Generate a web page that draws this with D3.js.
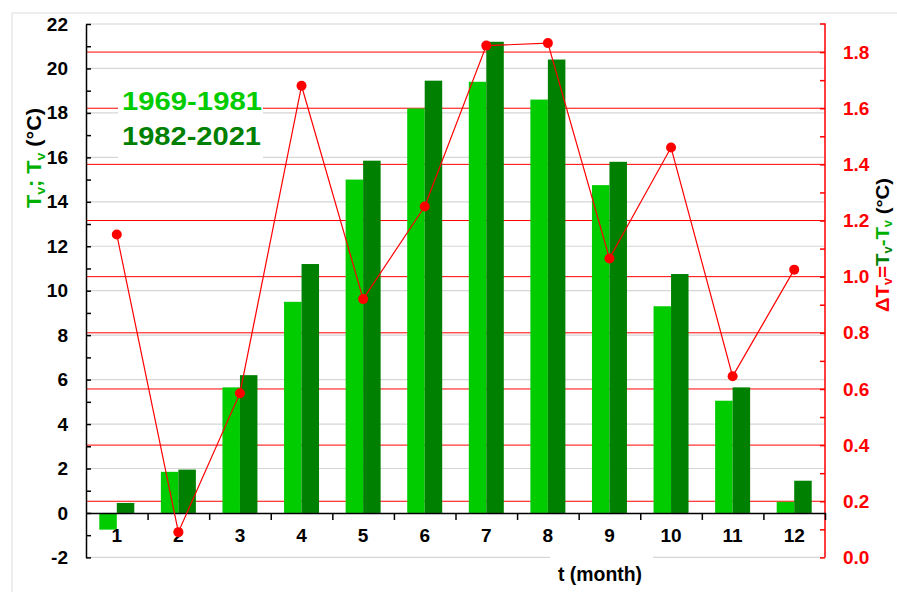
<!DOCTYPE html>
<meta charset="utf-8">
<script src="https://d3js.org/d3.v7.min.js"></script>
<style>
  body { margin: 0; background: #fff; }
  text { font-family: Arial, "Liberation Sans", sans-serif; font-weight: bold; }
</style>
<div id="chart"></div>
<script>

// data
var months = [1, 2, 3, 4, 5, 6, 7, 8, 9, 10, 11, 12];
var tv1969 = [-0.75, 1.85, 5.65, 9.5, 15.0, 18.2, 19.4, 18.6, 14.75, 9.3, 5.05, 0.5];
var tv1982 = [0.45, 1.95, 6.2, 11.2, 15.85, 19.45, 21.2, 20.4, 15.8, 10.75, 5.65, 1.45];
var deltaT = [1.15, 0.09, 0.585, 1.68, 0.92, 1.25, 1.823, 1.832, 1.065, 1.46, 0.645, 1.025];
var legendLabels = ["1969-1981", "1982-2021"];

var width = 897, height = 592;
var plot = {left: 86, right: 825, top: 24, bottom: 557.4};
var lightGreen = "#00cc00", darkGreen = "#008000", red = "#ff0000";
var font = "Arial, 'Liberation Sans', sans-serif";

var svg = d3.select("#chart").append("svg")
    .attr("width", width)
    .attr("height", height);

// light frame around the figure
svg.append("line").attr("x1", 12).attr("x2", width).attr("y1", 13).attr("y2", 13)
    .attr("stroke", "#dcdcdc");
svg.append("line").attr("x1", 12).attr("x2", 12).attr("y1", 13).attr("y2", height)
    .attr("stroke", "#dcdcdc");

var x = d3.scaleBand().domain(months).range([plot.left, plot.right]).padding(0);
var xb = d3.scaleLinear().domain([0, 12]).range([plot.left, plot.right]);
var yL = d3.scaleLinear().domain([-2, 22]).range([plot.bottom, plot.top]);
var yR = d3.scaleLinear().domain([0, 1.9]).range([plot.bottom, plot.top]);

// grey grid on left majors
svg.append("g").selectAll("line")
  .data(d3.range(-2, 23, 2).filter(function(d) { return d !== 0; }))
  .enter().append("line")
    .attr("x1", plot.left).attr("x2", plot.right)
    .attr("y1", function(d) { return yL(d); })
    .attr("y2", function(d) { return yL(d); })
    .attr("stroke", "#d6d6d6").attr("stroke-width", 1.2);

// red grid on right majors
svg.append("g").selectAll("line")
  .data(d3.range(0.2, 1.81, 0.2))
  .enter().append("line")
    .attr("x1", plot.left).attr("x2", plot.right)
    .attr("y1", function(d) { return yR(d); })
    .attr("y2", function(d) { return yR(d); })
    .attr("stroke", red).attr("stroke-width", 1);

// legend box (white, hides the grid)
svg.append("rect").attr("x", 118).attr("y", 85).attr("width", 145).attr("height", 75)
    .attr("fill", "#fff");
svg.append("text").attr("x", 122).attr("y", 110).attr("font-size", 25)
    .attr("textLength", 140).attr("lengthAdjust", "spacingAndGlyphs")
    .attr("fill", lightGreen).text(legendLabels[0]);
svg.append("text").attr("x", 122).attr("y", 145).attr("font-size", 25)
    .attr("textLength", 139).attr("lengthAdjust", "spacingAndGlyphs")
    .attr("fill", darkGreen).text(legendLabels[1]);

// bars
var barW = 17.5;
var bars = svg.append("g");
bars.selectAll(".b1").data(months).enter().append("rect")
    .attr("x", function(d) { return x(d) + x.bandwidth() / 2 - barW; })
    .attr("width", barW)
    .attr("y", function(d, i) { return yL(Math.max(0, tv1969[i])); })
    .attr("height", function(d, i) { return Math.abs(yL(tv1969[i]) - yL(0)); })
    .attr("fill", lightGreen);
bars.selectAll(".b2").data(months).enter().append("rect")
    .attr("x", function(d) { return x(d) + x.bandwidth() / 2; })
    .attr("width", barW)
    .attr("y", function(d, i) { return yL(Math.max(0, tv1982[i])); })
    .attr("height", function(d, i) { return Math.abs(yL(tv1982[i]) - yL(0)); })
    .attr("fill", darkGreen);

// left axis
var axL = svg.append("g")
    .attr("transform", "translate(" + plot.left + ",0)")
    .call(d3.axisLeft(yL)
      .tickValues(d3.range(-2, 23, 1))
      .tickFormat(function(d) { return d % 2 === 0 ? d : ""; })
      .tickSizeInner(-5).tickSizeOuter(0).tickPadding(18));
axL.select(".domain").attr("stroke", "#000").attr("stroke-width", 1.5);
axL.selectAll(".tick line").attr("stroke", "#000").attr("stroke-width", 1.5);
axL.selectAll("text").attr("font-size", 19).attr("fill", "#000")
    .attr("font-family", font).attr("font-weight", "bold");

// right axis
var axR = svg.append("g")
    .attr("transform", "translate(" + plot.right + ",0)")
    .call(d3.axisRight(yR)
      .tickValues(d3.range(0, 19).map(function(i) { return i / 10; }))
      .tickFormat(function(d) { return Math.round(d * 10) % 2 === 0 ? d3.format(".1f")(d) : ""; })
      .tickSizeInner(-5).tickSizeOuter(0).tickPadding(18));
axR.select(".domain").attr("stroke", red).attr("stroke-width", 1.5)
    .attr("d", "M0," + plot.bottom + "V" + plot.top + "h-5");
axR.selectAll(".tick line").attr("stroke", red).attr("stroke-width", 1.5);
axR.selectAll("text").attr("font-size", 19).attr("fill", red)
    .attr("font-family", font).attr("font-weight", "bold");

// x axis: line with ticks between months, labels at centres
var axX = svg.append("g")
    .attr("transform", "translate(0," + yL(0) + ")")
    .call(d3.axisBottom(xb).tickValues(d3.range(1, 13)).tickFormat("").tickSizeInner(7).tickSizeOuter(0));
axX.select(".domain").attr("stroke", "#000").attr("stroke-width", 1.5);
axX.selectAll(".tick line").attr("stroke", "#000").attr("stroke-width", 1.5);

var axXl = svg.append("g")
    .attr("transform", "translate(0," + yL(0) + ")")
    .call(d3.axisBottom(x).tickSize(0).tickPadding(16));
axXl.select(".domain").remove();
axXl.selectAll("text").attr("font-size", 19).attr("fill", "#000")
    .attr("font-family", font).attr("font-weight", "bold");

// delta line and dots
svg.append("path")
    .datum(months)
    .attr("fill", "none")
    .attr("stroke", red)
    .attr("stroke-width", 1.2)
    .attr("d", d3.line()
      .x(function(d) { return x(d) + x.bandwidth() / 2; })
      .y(function(d, i) { return yR(deltaT[i]); }));
svg.append("g").selectAll("circle").data(months).enter().append("circle")
    .attr("cx", function(d) { return x(d) + x.bandwidth() / 2; })
    .attr("cy", function(d, i) { return yR(deltaT[i]); })
    .attr("r", 5)
    .attr("fill", red);

// x title
svg.append("rect").attr("x", 550).attr("y", 552).attr("width", 103).attr("height", 36).attr("fill", "#fff");
svg.append("text").attr("x", 600).attr("y", 581).attr("text-anchor", "middle")
    .attr("font-size", 20).attr("textLength", 84).attr("lengthAdjust", "spacingAndGlyphs")
    .attr("fill", "#000").text("t (month)");

// left title
var tl = svg.append("text")
    .attr("transform", "translate(41,158) rotate(-90)")
    .attr("text-anchor", "middle").attr("font-size", 20)
    .attr("textLength", 100).attr("lengthAdjust", "spacingAndGlyphs");
tl.append("tspan").attr("fill", "#00b000").text("T");
tl.append("tspan").attr("fill", "#00b000").attr("font-size", 13).attr("dy", 4).text("v");
tl.append("tspan").attr("fill", "#00b000").attr("dy", -4).text("; ");
tl.append("tspan").attr("fill", "#00b000").text("T");
tl.append("tspan").attr("fill", "#00b000").attr("font-size", 13).attr("dy", 4).text("v");
tl.append("tspan").attr("fill", "#000").attr("dy", -4).text(" (°C)");

// right title
var tr = svg.append("text")
    .attr("transform", "translate(889,245) rotate(-90)")
    .attr("text-anchor", "middle").attr("font-size", 19)
    .attr("textLength", 134).attr("lengthAdjust", "spacingAndGlyphs");
tr.append("tspan").attr("fill", red).text("ΔT");
tr.append("tspan").attr("fill", red).attr("font-size", 12).attr("dy", 3).text("v");
tr.append("tspan").attr("fill", red).attr("dy", -3).text("=");
tr.append("tspan").attr("fill", darkGreen).text("T");
tr.append("tspan").attr("fill", darkGreen).attr("font-size", 12).attr("dy", 3).text("v");
tr.append("tspan").attr("fill", "#00b000").attr("dy", -3).text("-T");
tr.append("tspan").attr("fill", "#00b000").attr("font-size", 12).attr("dy", 3).text("v");
tr.append("tspan").attr("fill", "#000").attr("dy", -3).text(" (°C)");

</script>
